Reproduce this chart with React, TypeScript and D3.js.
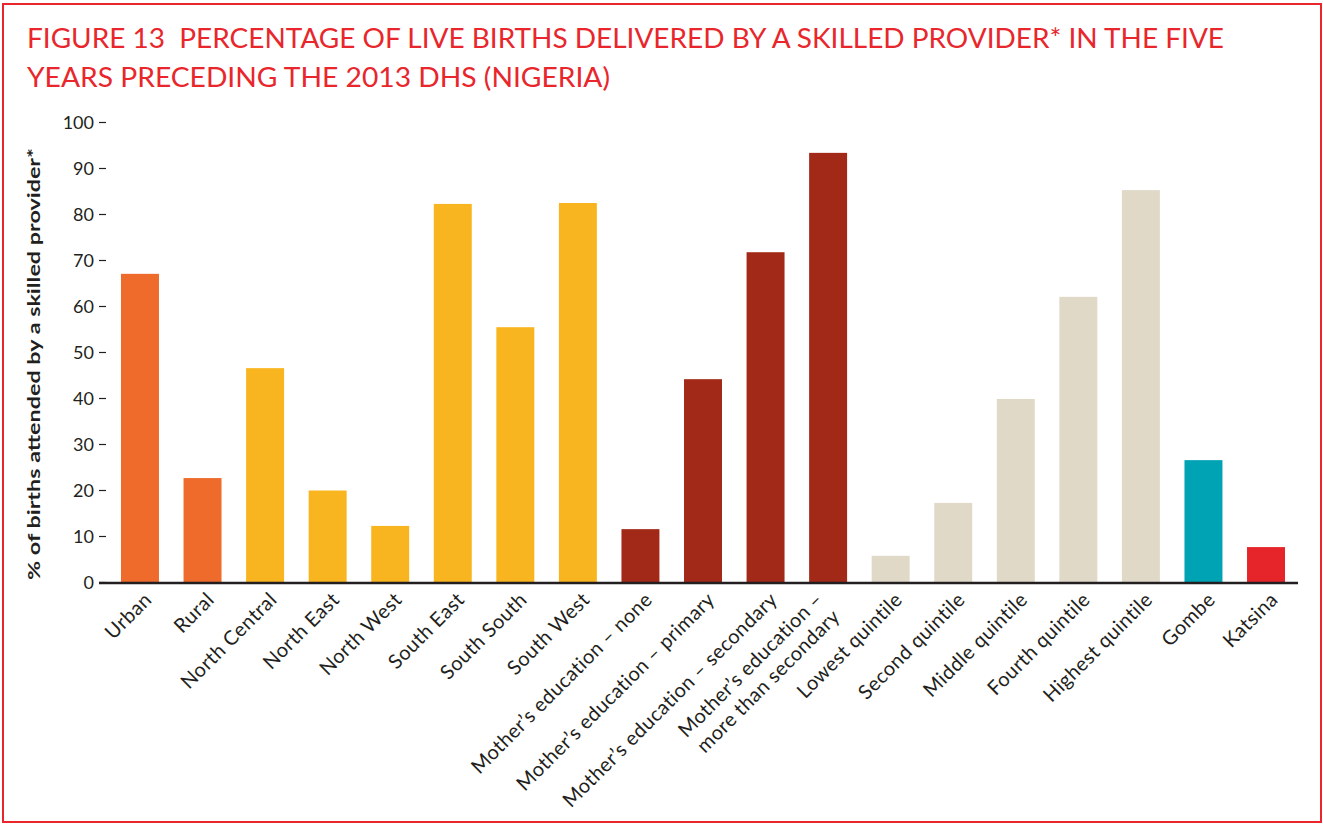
import React from "react";
import * as d3 from "d3";

const categories: string[][] = [
  ["Urban"],
  ["Rural"],
  ["North Central"],
  ["North East"],
  ["North West"],
  ["South East"],
  ["South South"],
  ["South West"],
  ["Mother’s education – none"],
  ["Mother’s education – primary"],
  ["Mother’s education – secondary"],
  ["Mother’s education –", "more than secondary"],
  ["Lowest quintile"],
  ["Second quintile"],
  ["Middle quintile"],
  ["Fourth quintile"],
  ["Highest quintile"],
  ["Gombe"],
  ["Katsina"],
];

const values: number[] = [
  67.1, 22.7, 46.6, 20.0, 12.3, 82.3, 55.5, 82.5, 11.6, 44.2, 71.8, 93.4, 5.8,
  17.3, 39.9, 62.1, 85.3, 26.6, 7.7,
];

const groups: string[] = [
  "residence", "residence",
  "region", "region", "region", "region", "region", "region",
  "education", "education", "education", "education",
  "wealth", "wealth", "wealth", "wealth", "wealth",
  "gombe", "katsina",
];

const groupNames = ["residence", "region", "education", "wealth", "gombe", "katsina"];
const groupColors = ["#ee6b2c", "#f9b51f", "#a22917", "#e0d9c8", "#00a3b4", "#e5252a"];

const yTicks: number[] = [0, 10, 20, 30, 40, 50, 60, 70, 80, 90, 100];

const titleLines = [
  "FIGURE 13  PERCENTAGE OF LIVE BIRTHS DELIVERED BY A SKILLED PROVIDER* IN THE FIVE",
  "YEARS PRECEDING THE 2013 DHS (NIGERIA)",
];
const yTitle = "% of births attended by a skilled provider*";

const W = 1323;
const H = 826;
const FONT = "Lato, 'Open Sans', sans-serif";
const INK = "#231f20";
const RED = "#e8262b";

export default function App() {
  const ids = categories.map((_, i) => String(i));
  const x = d3
    .scaleBand<string>()
    .domain(ids)
    .range([108.7, 1297.3])
    .paddingInner(0.393)
    .paddingOuter(0.1965);
  const y = d3.scaleLinear().domain([0, 100]).range([582.5, 122.5]);
  const color = d3.scaleOrdinal<string, string>().domain(groupNames).range(groupColors);

  return (
    <svg
      width={W}
      height={H}
      style={{ position: "absolute", left: 0, top: 0, background: "#fff" }}
      fontFamily={FONT}
    >
      <rect x={0} y={0} width={W} height={H} fill="#fff" />
      <rect x={3} y={4} width={1318} height={818} fill="none" stroke={RED} strokeWidth={2} />

      {titleLines.map((t, i) => (
        <text
          key={i}
          x={27}
          y={48 + i * 39}
          fill={RED}
          fontSize={27}
          textLength={i === 0 ? 1197 : 583}
          lengthAdjust="spacingAndGlyphs"
          style={{ whiteSpace: "pre" }}
        >
          {t}
        </text>
      ))}

      <text
        transform={`translate(40,364) rotate(-90)`}
        textAnchor="middle"
        fontSize={17}
        fontWeight="bold"
        fill={INK}
        textLength={432}
        lengthAdjust="spacingAndGlyphs"
      >
        {yTitle}
      </text>

      {yTicks.map((t) => (
        <g key={t} transform={`translate(0,${y(t)})`}>
          <text x={94} dy="0.35em" textAnchor="end" fontSize={18} fill={INK}>
            {t}
          </text>
          <line x1={99} x2={106} stroke={INK} strokeWidth={1.2} />
        </g>
      ))}

      {values.map((v, i) => (
        <rect
          key={i}
          x={x(ids[i])}
          y={y(v)}
          width={x.bandwidth()}
          height={y(0) - y(v)}
          fill={color(groups[i])}
        />
      ))}

      <line x1={99} x2={1298} y1={y(0) + 0.5} y2={y(0) + 0.5} stroke={INK} strokeWidth={2.5} />

      {categories.map((lines, i) => {
        const cx = (x(ids[i]) as number) + x.bandwidth() / 2;
        return (
          <text
            key={i}
            transform={`translate(${cx + 8},596) rotate(-45)`}
            textAnchor="end"
            fontSize={20}
            letterSpacing={0.4}
            fill={INK}
          >
            {lines.length === 1 ? (
              <tspan x={0} dy="0.35em">
                {lines[0]}
              </tspan>
            ) : (
              lines.map((l, j) => (
                <tspan key={j} x={-12} y={j === 0 ? -12 : 12} dy="0.35em">
                  {l}
                </tspan>
              ))
            )}
          </text>
        );
      })}
    </svg>
  );
}
